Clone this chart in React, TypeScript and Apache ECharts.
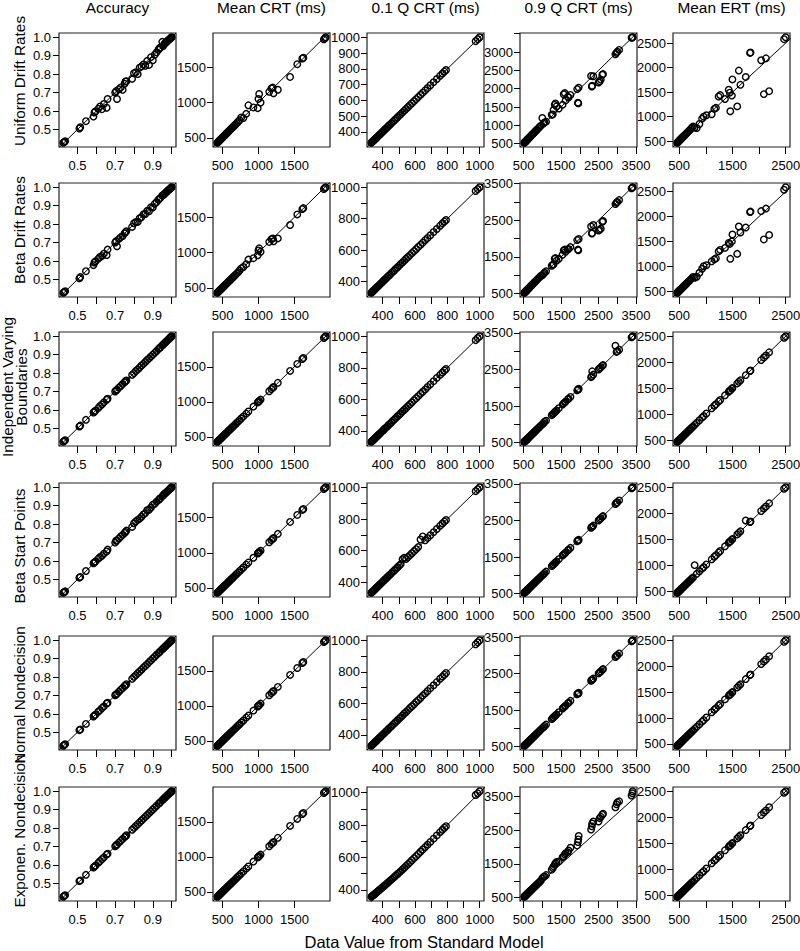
import React, { useEffect, useRef } from "react";
import * as echarts from "echarts";

// ---------- text ----------
const COL_TITLES = ["Accuracy", "Mean CRT (ms)", "0.1 Q CRT (ms)", "0.9 Q CRT (ms)", "Mean ERT (ms)"];
const ROW_LABELS = [
  "Uniform Drift Rates",
  "Beta Drift Rates",
  "Independent Varying\nBoundaries",
  "Beta Start Points",
  "Normal Nondecision",
  "Exponen. Nondecision",
];
const X_TITLE = "Data Value from Standard Model";

// ---------- tick values ----------
const ACC_TICKS = [0.5, 0.6, 0.7, 0.8, 0.9, 1.0];
const ACC_X_LABELS = [0.5, 0.7, 0.9];
const ACC_Y_LABELS = [0.5, 0.6, 0.7, 0.8, 0.9, 1.0];
const CRT_TICKS = [500, 1000, 1500];
const CRT_LABELS = [500, 1000, 1500];
const Q1_TICKS = [400, 500, 600, 700, 800, 900, 1000];
const Q1_X_LABELS = [400, 600, 800, 1000];
const Q1_Y_LABELS_TOP = [400, 500, 600, 700, 800, 900, 1000];
const Q1_Y_LABELS = [400, 600, 800, 1000];
const Q9_TICKS = [500, 1000, 1500, 2000, 2500, 3000, 3500];
const Q9_X_LABELS = [500, 1500, 2500, 3500];
const Q9_Y_LABELS_TOP = [500, 1000, 1500, 2000, 2500, 3000];
const Q9_Y_LABELS = [500, 1500, 2500, 3500];
const ERT_TICKS = [500, 1000, 1500, 2000, 2500];
const ERT_X_LABELS = [500, 1500, 2500];
const ERT_Y_LABELS = [500, 1000, 1500, 2000, 2500];

// ---------- Accuracy ----------
const ACC_X = [0.425, 0.43, 0.435, 0.51, 0.515, 0.545, 0.585, 0.59, 0.595, 0.61, 0.62, 0.63, 0.64, 0.655, 0.66, 0.70, 0.705, 0.71, 0.72, 0.73, 0.74, 0.75, 0.755, 0.76, 0.79, 0.80, 0.81, 0.82, 0.83, 0.84, 0.85, 0.86, 0.87, 0.88, 0.89, 0.90, 0.91, 0.92, 0.93, 0.935, 0.94, 0.95, 0.955, 0.96, 0.965, 0.97, 0.975, 0.98, 0.985, 0.99, 0.993, 0.996, 0.998, 1.0];
const ACC_UNIFORM = [0.428, 0.432, 0.437, 0.505, 0.512, 0.545, 0.57, 0.592, 0.598, 0.612, 0.625, 0.61, 0.638, 0.618, 0.665, 0.70, 0.708, 0.665, 0.718, 0.728, 0.715, 0.748, 0.76, 0.762, 0.775, 0.805, 0.81, 0.80, 0.835, 0.842, 0.852, 0.845, 0.872, 0.85, 0.892, 0.875, 0.905, 0.918, 0.932, 0.94, 0.943, 0.975, 0.952, 0.962, 0.968, 0.972, 0.977, 0.982, 0.987, 0.99, 0.994, 0.996, 0.999, 1.0];
const ACC_BETA = [0.428, 0.432, 0.437, 0.506, 0.513, 0.545, 0.578, 0.592, 0.598, 0.612, 0.622, 0.628, 0.64, 0.632, 0.662, 0.70, 0.707, 0.68, 0.72, 0.73, 0.735, 0.75, 0.757, 0.762, 0.785, 0.805, 0.812, 0.812, 0.832, 0.838, 0.853, 0.855, 0.872, 0.87, 0.892, 0.89, 0.91, 0.92, 0.932, 0.937, 0.942, 0.955, 0.957, 0.962, 0.967, 0.972, 0.977, 0.982, 0.987, 0.99, 0.994, 0.996, 0.998, 1.0];
const ACC_INDEP = [0.427, 0.432, 0.436, 0.51, 0.515, 0.546, 0.586, 0.59, 0.596, 0.61, 0.621, 0.63, 0.641, 0.655, 0.661, 0.70, 0.706, 0.71, 0.721, 0.73, 0.741, 0.75, 0.756, 0.76, 0.79, 0.80, 0.811, 0.82, 0.83, 0.841, 0.85, 0.86, 0.871, 0.88, 0.89, 0.90, 0.91, 0.92, 0.93, 0.935, 0.94, 0.95, 0.955, 0.96, 0.965, 0.97, 0.975, 0.98, 0.985, 0.99, 0.993, 0.996, 0.998, 1.0];
const ACC_START = [0.428, 0.432, 0.436, 0.51, 0.514, 0.546, 0.588, 0.592, 0.597, 0.612, 0.622, 0.628, 0.64, 0.652, 0.662, 0.70, 0.71, 0.712, 0.722, 0.733, 0.742, 0.752, 0.758, 0.765, 0.785, 0.805, 0.815, 0.823, 0.83, 0.84, 0.852, 0.86, 0.875, 0.878, 0.89, 0.905, 0.91, 0.922, 0.93, 0.937, 0.94, 0.95, 0.957, 0.962, 0.966, 0.972, 0.975, 0.98, 0.986, 0.99, 0.993, 0.996, 0.998, 1.0];
const ACC_NORMAL = [0.426, 0.431, 0.435, 0.511, 0.515, 0.545, 0.585, 0.591, 0.595, 0.611, 0.62, 0.631, 0.64, 0.656, 0.66, 0.701, 0.705, 0.71, 0.72, 0.731, 0.74, 0.751, 0.755, 0.761, 0.79, 0.801, 0.81, 0.821, 0.83, 0.84, 0.851, 0.86, 0.87, 0.881, 0.89, 0.901, 0.91, 0.921, 0.93, 0.935, 0.941, 0.95, 0.956, 0.96, 0.965, 0.971, 0.975, 0.98, 0.985, 0.99, 0.993, 0.996, 0.998, 1.0];
const ACC_EXPON = [0.427, 0.432, 0.436, 0.512, 0.516, 0.546, 0.586, 0.591, 0.596, 0.611, 0.621, 0.631, 0.641, 0.656, 0.661, 0.701, 0.706, 0.711, 0.721, 0.731, 0.741, 0.751, 0.756, 0.761, 0.791, 0.801, 0.811, 0.821, 0.831, 0.841, 0.851, 0.861, 0.871, 0.881, 0.891, 0.901, 0.911, 0.921, 0.931, 0.936, 0.941, 0.951, 0.956, 0.961, 0.966, 0.971, 0.976, 0.981, 0.986, 0.99, 0.993, 0.996, 0.998, 1.0];

// ---------- Mean CRT ----------
const CRT_X = [428, 434, 440, 446, 453, 460, 467, 474, 482, 490, 498, 507, 516, 525, 535, 545, 556, 567, 579, 591, 604, 618, 632, 647, 663, 680, 698, 717, 737, 760, 790, 830, 860, 930, 990, 1000, 1010, 1030, 1150, 1180, 1200, 1210, 1270, 1440, 1540, 1610, 1625, 1910, 1925, 1935];
const CRT_UNIFORM = [432, 438, 444, 451, 458, 465, 472, 480, 488, 496, 504, 513, 522, 532, 542, 552, 563, 575, 587, 600, 613, 627, 641, 656, 672, 690, 708, 728, 750, 790, 780, 840, 960, 930, 920, 1050, 1120, 1000, 1150, 1200, 1210, 1130, 1180, 1360, 1540, 1620, 1630, 1890, 1905, 1920];
const CRT_BETA = [430, 436, 442, 449, 456, 463, 470, 477, 485, 493, 501, 510, 519, 529, 539, 549, 560, 571, 583, 595, 608, 622, 636, 651, 667, 684, 702, 722, 745, 775, 795, 835, 900, 920, 960, 1030, 1060, 1010, 1150, 1190, 1200, 1160, 1200, 1390, 1540, 1615, 1630, 1900, 1915, 1925];
const CRT_INDEP = [429, 434, 441, 446, 454, 460, 468, 474, 483, 490, 499, 507, 517, 525, 536, 545, 557, 567, 580, 591, 605, 618, 633, 647, 664, 680, 699, 717, 738, 761, 791, 831, 861, 931, 991, 1001, 1011, 1031, 1151, 1181, 1201, 1211, 1271, 1441, 1541, 1611, 1626, 1911, 1926, 1936];
const CRT_START = [430, 435, 441, 447, 454, 461, 468, 475, 483, 491, 499, 508, 517, 526, 536, 546, 557, 568, 580, 592, 605, 619, 633, 648, 664, 681, 699, 718, 738, 761, 790, 831, 861, 930, 990, 1001, 1011, 1030, 1150, 1181, 1200, 1211, 1270, 1440, 1540, 1611, 1625, 1910, 1925, 1935];
const CRT_NORMAL = [429, 434, 441, 446, 453, 461, 467, 475, 482, 491, 498, 508, 516, 526, 535, 546, 556, 568, 579, 592, 604, 619, 632, 648, 663, 681, 698, 718, 737, 761, 790, 831, 860, 931, 990, 1001, 1010, 1031, 1150, 1181, 1200, 1211, 1270, 1441, 1540, 1611, 1625, 1911, 1925, 1936];
const CRT_EXPON = [430, 436, 442, 448, 455, 462, 469, 476, 484, 492, 500, 509, 518, 527, 537, 547, 558, 569, 581, 593, 606, 620, 634, 649, 665, 682, 700, 719, 739, 762, 792, 832, 862, 932, 992, 1002, 1012, 1032, 1152, 1182, 1202, 1212, 1272, 1442, 1542, 1612, 1627, 1912, 1927, 1937];

// ---------- 0.1 Q CRT ----------
const Q1_X = [330, 334, 338, 342, 347, 352, 357, 362, 368, 374, 380, 386, 393, 400, 407, 414, 422, 430, 438, 446, 455, 464, 473, 482, 492, 502, 512, 523, 534, 545, 557, 569, 581, 594, 607, 620, 634, 648, 663, 678, 695, 715, 735, 755, 770, 782, 792, 975, 988, 1000];
const Q1_UNIFORM = [331, 335, 339, 343, 348, 353, 358, 363, 369, 375, 381, 387, 394, 401, 408, 415, 423, 431, 439, 447, 456, 465, 474, 483, 493, 503, 513, 524, 535, 546, 558, 570, 582, 595, 608, 621, 635, 649, 664, 679, 696, 716, 736, 756, 771, 783, 793, 976, 989, 1001];
const Q1_BETA = [330, 334, 338, 343, 347, 352, 357, 363, 368, 374, 380, 387, 393, 400, 408, 414, 422, 431, 438, 446, 456, 464, 473, 483, 492, 502, 513, 523, 534, 546, 557, 569, 582, 594, 607, 621, 634, 648, 664, 678, 695, 716, 735, 755, 771, 782, 792, 976, 988, 1000];
const Q1_INDEP = [331, 335, 338, 342, 348, 352, 358, 362, 369, 374, 381, 386, 394, 400, 407, 415, 422, 430, 439, 446, 455, 465, 473, 482, 493, 502, 512, 524, 534, 545, 558, 569, 581, 595, 607, 620, 635, 648, 663, 679, 695, 715, 736, 755, 770, 783, 792, 975, 989, 1000];
const Q1_START = [332, 336, 340, 344, 349, 354, 359, 364, 370, 376, 382, 388, 395, 402, 409, 416, 424, 432, 440, 448, 457, 466, 475, 484, 494, 504, 514, 545, 555, 547, 559, 571, 583, 596, 609, 622, 670, 690, 665, 680, 697, 717, 737, 757, 772, 784, 794, 977, 990, 1002];
const Q1_NORMAL = [330, 334, 339, 342, 347, 353, 357, 362, 368, 375, 380, 386, 393, 401, 407, 414, 423, 430, 438, 447, 455, 464, 474, 482, 492, 503, 512, 523, 535, 545, 557, 570, 581, 594, 608, 620, 634, 649, 663, 678, 696, 715, 735, 756, 770, 782, 793, 975, 988, 1001];
const Q1_EXPON = [358, 362, 365, 368, 372, 376, 380, 385, 390, 395, 400, 405, 411, 417, 423, 429, 436, 443, 450, 457, 465, 473, 481, 489, 498, 507, 516, 526, 537, 548, 559, 571, 583, 596, 608, 621, 635, 649, 664, 679, 696, 716, 736, 756, 771, 783, 793, 985, 995, 1008];

// ---------- 0.9 Q CRT ----------
const Q9_X = [520, 527, 534, 541, 548, 556, 564, 572, 581, 590, 600, 610, 621, 632, 644, 656, 669, 683, 698, 714, 731, 749, 768, 788, 810, 835, 862, 892, 925, 960, 1000, 1030, 1060, 1100, 1250, 1280, 1300, 1330, 1350, 1380, 1440, 1540, 1570, 1600, 1620, 1680, 1700, 1750, 1930, 1950, 1960, 1970, 2300, 2320, 2330, 2360, 2500, 2530, 2560, 2600, 2620, 2950, 2980, 3000, 3050, 3380, 3400, 3410];
const Q9_UNIFORM = [525, 532, 540, 547, 555, 563, 572, 580, 590, 600, 610, 621, 632, 644, 657, 670, 684, 699, 715, 732, 750, 769, 789, 810, 833, 860, 888, 920, 955, 990, 1200, 1050, 1080, 1100, 1290, 1300, 1420, 1560, 1600, 1520, 1460, 1560, 1850, 1880, 1680, 1780, 1760, 1830, 1990, 1620, 1600, 2030, 2350, 2060, 2080, 2340, 2170, 2200, 2250, 2380, 2400, 2940, 2980, 3010, 3060, 3390, 3400, 3405];
const Q9_BETA = [524, 531, 538, 545, 553, 561, 569, 578, 587, 597, 607, 618, 629, 641, 653, 666, 680, 695, 711, 728, 746, 765, 785, 806, 830, 856, 884, 915, 950, 985, 1000, 1040, 1070, 1110, 1260, 1290, 1300, 1450, 1470, 1400, 1450, 1560, 1680, 1700, 1640, 1700, 1720, 1770, 1960, 1700, 1680, 1990, 2330, 2140, 2150, 2370, 2220, 2240, 2270, 2460, 2480, 2940, 2980, 3000, 3050, 3370, 3390, 3400];
const Q9_INDEP = [521, 528, 535, 542, 549, 557, 565, 573, 582, 591, 601, 611, 622, 633, 645, 657, 670, 684, 699, 715, 732, 750, 769, 789, 811, 836, 863, 893, 926, 961, 1000, 1030, 1070, 1100, 1250, 1280, 1300, 1330, 1350, 1380, 1440, 1540, 1570, 1600, 1620, 1680, 1700, 1750, 1930, 1950, 1960, 1970, 2290, 2320, 2450, 2360, 2500, 2530, 2560, 2600, 2620, 3150, 2980, 3000, 3040, 3380, 3400, 3410];
const Q9_START = [521, 527, 535, 541, 549, 556, 565, 572, 582, 590, 601, 610, 622, 632, 645, 656, 670, 683, 699, 714, 732, 749, 769, 788, 811, 835, 863, 892, 926, 960, 1001, 1031, 1061, 1101, 1251, 1281, 1301, 1331, 1351, 1381, 1441, 1541, 1571, 1601, 1621, 1681, 1701, 1751, 1931, 1951, 1961, 1971, 2301, 2321, 2331, 2361, 2501, 2531, 2561, 2601, 2621, 2951, 2981, 3001, 3051, 3381, 3401, 3411];
const Q9_NORMAL = [520, 528, 534, 542, 548, 557, 564, 573, 581, 591, 600, 611, 621, 633, 644, 657, 669, 684, 698, 715, 731, 750, 768, 789, 810, 836, 862, 893, 925, 961, 1002, 1031, 1062, 1101, 1252, 1281, 1302, 1331, 1352, 1381, 1442, 1541, 1572, 1601, 1622, 1681, 1702, 1751, 1932, 1951, 1962, 1971, 2302, 2321, 2332, 2361, 2502, 2531, 2562, 2601, 2622, 2952, 2981, 3002, 3051, 3382, 3401, 3412];
const Q9_EXPON = [525, 532, 540, 548, 556, 565, 574, 583, 593, 603, 614, 625, 637, 649, 662, 676, 690, 705, 721, 738, 756, 775, 795, 817, 842, 868, 897, 929, 964, 1002, 1080, 1110, 1130, 1170, 1330, 1380, 1430, 1480, 1520, 1560, 1570, 1700, 1730, 1780, 1820, 1850, 1900, 1980, 2050, 2150, 2230, 2330, 2520, 2620, 2700, 2760, 2760, 2860, 2900, 2960, 2990, 3180, 3270, 3330, 3360, 3530, 3600, 3660];

// ---------- Mean ERT ----------
const ERT_X = [465, 470, 476, 482, 489, 496, 503, 511, 519, 528, 537, 547, 557, 568, 580, 593, 607, 622, 638, 655, 673, 692, 712, 735, 760, 790, 830, 880, 930, 960, 1010, 1110, 1160, 1190, 1240, 1270, 1360, 1430, 1450, 1460, 1490, 1500, 1590, 1620, 1650, 1750, 1830, 1840, 2040, 2090, 2130, 2190, 2470, 2500];
const ERT_UNIFORM = [468, 474, 482, 490, 497, 505, 513, 522, 530, 540, 550, 560, 572, 585, 598, 612, 626, 642, 660, 680, 700, 720, 745, 770, 800, 780, 770, 850, 960, 1000, 1030, 1050, 1160, 1180, 1410, 1440, 1360, 1550, 1490, 1110, 1430, 1760, 1210, 1940, 1650, 1810, 2300, 2310, 2150, 1460, 2190, 1520, 2580, 2620];
const ERT_BETA = [467, 473, 480, 487, 494, 502, 510, 519, 527, 537, 546, 557, 567, 579, 592, 605, 619, 635, 652, 670, 690, 710, 732, 757, 785, 770, 790, 870, 950, 1000, 1020, 1100, 1140, 1160, 1300, 1330, 1370, 1470, 1450, 1150, 1500, 1640, 1250, 1800, 1680, 1780, 2090, 2100, 2110, 1540, 2160, 1630, 2540, 2590];
const ERT_INDEP = [466, 471, 477, 483, 490, 497, 504, 512, 520, 529, 538, 548, 558, 569, 581, 594, 608, 623, 639, 656, 674, 693, 713, 736, 761, 791, 831, 881, 931, 961, 1011, 1111, 1161, 1191, 1241, 1271, 1361, 1431, 1451, 1461, 1491, 1501, 1591, 1621, 1651, 1751, 1831, 1841, 2041, 2091, 2131, 2191, 2471, 2501];
const ERT_START = [467, 472, 478, 484, 491, 498, 505, 513, 521, 530, 539, 549, 559, 570, 582, 595, 609, 624, 640, 657, 675, 694, 714, 737, 762, 1000, 832, 882, 932, 962, 1012, 1112, 1162, 1192, 1242, 1272, 1362, 1432, 1452, 1462, 1492, 1502, 1592, 1622, 1652, 1860, 1832, 1842, 2042, 2092, 2132, 2192, 2472, 2502];
const ERT_NORMAL = [465, 471, 476, 483, 489, 497, 503, 512, 519, 529, 537, 548, 557, 569, 580, 594, 607, 623, 638, 656, 673, 693, 712, 736, 760, 791, 830, 881, 930, 961, 1010, 1111, 1160, 1191, 1240, 1271, 1360, 1431, 1450, 1461, 1490, 1501, 1590, 1621, 1650, 1751, 1830, 1841, 2040, 2091, 2130, 2191, 2470, 2501];
const ERT_EXPON = [466, 472, 477, 484, 490, 498, 504, 513, 520, 530, 538, 549, 558, 570, 581, 595, 608, 624, 639, 657, 674, 694, 713, 737, 761, 792, 832, 882, 932, 962, 1012, 1112, 1162, 1192, 1242, 1272, 1362, 1432, 1452, 1462, 1492, 1502, 1592, 1622, 1652, 1752, 1832, 1842, 2042, 2092, 2132, 2192, 2472, 2502];

// ---------- layout (pixels) ----------
const GRID_LEFT = [59, 213, 367, 520, 673];
const GRID_TOP = [33, 183, 332, 483, 636, 787];
const PANEL_W = 117;
const PANEL_H = 114;
const ROW_LABEL_Y = [81, 230, 387, 546, 695, 831];

function extent(v: number[]): [number, number] {
  let lo = Infinity;
  let hi = -Infinity;
  for (const a of v) {
    if (a < lo) lo = a;
    if (a > hi) hi = a;
  }
  const pad = (hi - lo) * 0.04;
  return [lo - pad, hi + pad];
}

export default function App() {
  const ref = useRef<HTMLDivElement>(null);

  useEffect(() => {
    if (!ref.current) return;
    const chart = echarts.init(ref.current, null, { renderer: "svg" });
    const font = '"Liberation Sans", Arial, Helvetica, sans-serif';
    const fmtAcc = (v: number) => v.toFixed(1);
    const fmtInt = (v: number) => String(Math.round(v));

    const columns = [
      {
        x: ACC_X,
        rows: [ACC_UNIFORM, ACC_BETA, ACC_INDEP, ACC_START, ACC_NORMAL, ACC_EXPON],
        ticks: ACC_TICKS,
        xLabels: ACC_X_LABELS,
        yLabels: [ACC_Y_LABELS, ACC_Y_LABELS, ACC_Y_LABELS, ACC_Y_LABELS, ACC_Y_LABELS, ACC_Y_LABELS],
        fmt: fmtAcc,
        yMargin: 8,
      },
      {
        x: CRT_X,
        rows: [CRT_UNIFORM, CRT_BETA, CRT_INDEP, CRT_START, CRT_NORMAL, CRT_EXPON],
        ticks: CRT_TICKS,
        xLabels: CRT_LABELS,
        yLabels: [CRT_LABELS, CRT_LABELS, CRT_LABELS, CRT_LABELS, CRT_LABELS, CRT_LABELS],
        fmt: fmtInt,
        yMargin: 7,
      },
      {
        x: Q1_X,
        rows: [Q1_UNIFORM, Q1_BETA, Q1_INDEP, Q1_START, Q1_NORMAL, Q1_EXPON],
        ticks: Q1_TICKS,
        xLabels: Q1_X_LABELS,
        yLabels: [Q1_Y_LABELS_TOP, Q1_Y_LABELS, Q1_Y_LABELS, Q1_Y_LABELS, Q1_Y_LABELS, Q1_Y_LABELS],
        fmt: fmtInt,
        yMargin: 7,
      },
      {
        x: Q9_X,
        rows: [Q9_UNIFORM, Q9_BETA, Q9_INDEP, Q9_START, Q9_NORMAL, Q9_EXPON],
        ticks: Q9_TICKS,
        xLabels: Q9_X_LABELS,
        yLabels: [Q9_Y_LABELS_TOP, Q9_Y_LABELS, Q9_Y_LABELS, Q9_Y_LABELS, Q9_Y_LABELS, Q9_Y_LABELS],
        fmt: fmtInt,
        yMargin: 7,
      },
      {
        x: ERT_X,
        rows: [ERT_UNIFORM, ERT_BETA, ERT_INDEP, ERT_START, ERT_NORMAL, ERT_EXPON],
        ticks: ERT_TICKS,
        xLabels: ERT_X_LABELS,
        yLabels: [ERT_Y_LABELS, ERT_Y_LABELS, ERT_Y_LABELS, ERT_Y_LABELS, ERT_Y_LABELS, ERT_Y_LABELS],
        fmt: fmtInt,
        yMargin: 7,
      },
    ];

    const grids: any[] = [];
    const xAxes: any[] = [];
    const yAxes: any[] = [];
    const series: any[] = [];
    const labelStyle = { fontSize: 13, fontFamily: font, color: "#000" };

    columns.forEach((col, c) => {
      const [x0, x1] = extent(col.x);
      col.rows.forEach((ys, r) => {
        const i = grids.length;
        const [y0, y1] = extent(ys);
        grids.push({
          left: GRID_LEFT[c],
          top: GRID_TOP[r],
          width: PANEL_W,
          height: PANEL_H,
          show: true,
          borderColor: "#222",
          borderWidth: 1.2,
          backgroundColor: "transparent",
          containLabel: false,
          outerBoundsMode: "none",
        });
        xAxes.push({
          type: "value",
          gridIndex: i,
          min: x0,
          max: x1,
          axisLine: { show: false, onZero: false },
          splitLine: { show: false },
          axisTick: {
            show: true,
            inside: false,
            length: 7,
            lineStyle: { color: "#000", width: 1 },
            customValues: col.ticks.filter((t) => t >= x0 && t <= x1),
          },
          axisLabel: {
            show: true,
            customValues: col.xLabels,
            margin: 12,
            formatter: col.fmt,
            ...labelStyle,
          },
        });
        yAxes.push({
          type: "value",
          gridIndex: i,
          min: y0,
          max: y1,
          axisLine: { show: false, onZero: false },
          splitLine: { show: false },
          axisTick: {
            show: true,
            inside: false,
            length: 6,
            lineStyle: { color: "#000", width: 1 },
            customValues: col.ticks.filter((t) => t >= y0 && t <= y1),
          },
          axisLabel: {
            show: true,
            customValues: col.yLabels[r].filter((t) => t >= y0 && t <= y1),
            margin: col.yMargin,
            formatter: col.fmt,
            ...labelStyle,
          },
        });
        const lo = Math.min(x0, y0);
        const hi = Math.max(x1, y1);
        series.push({
          type: "line",
          xAxisIndex: i,
          yAxisIndex: i,
          data: [
            [lo, lo],
            [hi, hi],
          ],
          symbol: "none",
          showSymbol: false,
          clip: true,
          silent: true,
          lineStyle: { color: "#000", width: 1 },
          z: 1,
        });
        const n = Math.min(col.x.length, ys.length);
        const pts: number[][] = [];
        for (let k = 0; k < n; k++) pts.push([col.x[k], ys[k]]);
        series.push({
          type: "scatter",
          xAxisIndex: i,
          yAxisIndex: i,
          data: pts,
          symbol: "circle",
          symbolSize: 6.5,
          clip: false,
          silent: true,
          itemStyle: { color: "transparent", borderColor: "#000", borderWidth: 1.4, opacity: 1 },
          z: 2,
        });
      });
    });

    const graphics: any[] = [];
    COL_TITLES.forEach((t, c) => {
      graphics.push({
        type: "text",
        x: GRID_LEFT[c] + PANEL_W / 2,
        y: 7,
        style: { text: t, fontSize: 15.4, fontFamily: font, fill: "#000", align: "center", verticalAlign: "middle" },
      });
    });
    ROW_LABELS.forEach((t, r) => {
      const twoLine = t.indexOf("\n") >= 0;
      graphics.push({
        type: "text",
        x: twoLine ? 14.3 : 19.7,
        y: ROW_LABEL_Y[r],
        rotation: Math.PI / 2,
        style: {
          text: t,
          fontSize: 15.3,
          lineHeight: 14.5,
          fontFamily: font,
          fill: "#000",
          align: "center",
          verticalAlign: "middle",
        },
      });
    });
    graphics.push({
      type: "text",
      x: 424,
      y: 942,
      style: { text: X_TITLE, fontSize: 16.5, fontFamily: font, fill: "#000", align: "center", verticalAlign: "middle" },
    });

    chart.setOption({
      animation: false,
      backgroundColor: "#fff",
      grid: grids,
      xAxis: xAxes,
      yAxis: yAxes,
      series,
      graphic: graphics,
    });

    return () => chart.dispose();
  }, []);

  return (
    <div
      ref={ref}
      style={{ position: "absolute", left: 0, top: 0, width: 800, height: 951, background: "#fff" }}
    />
  );
}
